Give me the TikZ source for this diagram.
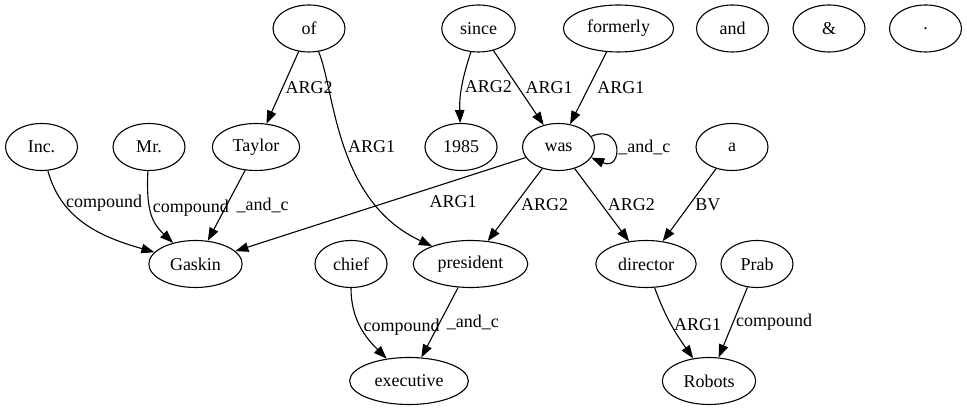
\documentclass[tikz,border=0pt]{standalone}
\usepackage{fontspec}
\setmainfont{Liberation Serif}
\newfontfamily\graphfont{Liberation Serif}
\usetikzlibrary{arrows.meta,shapes.geometric}

\begin{document}
\begin{tikzpicture}[x=1pt, y=1pt, line width=1.1pt, >={Triangle[length=13pt,width=9.5pt]},
  font=\graphfont\fontsize{18}{21}\selectfont,
  word/.style={draw, ellipse, minimum width=72pt, minimum height=47pt, inner xsep=7.5pt, inner ysep=3pt},
  lbl/.style={inner sep=2.5pt}]
  \useasboundingbox (0,0) rectangle (967,411);

  % top row
  \node (of) [word] at (309,382.5) {of};
  \node (since) [word] at (478.5,382.5) {since};
  \node (formerly) [word] at (618.5,382.5) {formerly};
  \node (and) [word] at (732.5,382.5) {and};
  \node (amp) [word] at (829,382.5) {\&};
  \node (dot) [word] at (925.5,382.5) {.};

  % second row
  \node (Inc) [word] at (41.5,264) {Inc.};
  \node (Mr) [word] at (149,264) {Mr.};
  \node (Taylor) [word] at (256,264) {Taylor};
  \node (y1985) [word] at (461,264) {1985};
  \node (was) [word] at (558.5,264) {was};
  \node (a) [word] at (732,264) {a};

  % third row
  \node (Gaskin) [word] at (195.5,147) {Gaskin};
  \node (chief) [word] at (351,147) {chief};
  \node (president) [word] at (470.5,147) {president};
  \node (director) [word] at (646,147) {director};
  \node (Prab) [word] at (757,147) {Prab};

  % bottom row
  \node (executive) [word] at (409,30) {executive};
  \node (Robots) [word] at (709,30) {Robots};

  \draw[->] (of) -- (Taylor) node[lbl,midway,right] {ARG2};
  \draw[->] (of) .. controls (335,320) and (335,210) .. node[lbl,midway,right] {ARG1} (president);
  \draw[->] (since) to[out=-108,in=92] node[lbl,midway,right] {ARG2} (y1985);
  \draw[->] (since) -- (was) node[lbl,midway,right,xshift=4pt] {ARG1};
  \draw[->] (formerly) -- (was) node[lbl,midway,right,xshift=6pt] {ARG1};
  \draw[->] (was.18) .. controls +(32,14) and +(32,-14) .. node[lbl,right] {\_and\_c} (was.-18);

  \draw[->] (Inc) to[out=-75,in=164] node[lbl,pos=0.25,right] {compound} (Gaskin);
  \draw[->] (Mr) .. controls (146,200) and (152,188) .. node[lbl,pos=0.4,right] {compound} (Gaskin);
  \draw[->] (Taylor.-115) -- (Gaskin.62) node[lbl,midway,right,xshift=7pt] {\_and\_c};
  \draw[->] (was) -- (Gaskin) node[lbl,pos=0.25,below=12pt] {ARG1};
  \draw[->] (was) -- (president) node[lbl,midway,right,xshift=3pt] {ARG2};
  \draw[->] (was) -- (director) node[lbl,midway,right,xshift=3pt] {ARG2};
  \draw[->] (a) -- (director) node[lbl,midway,right,xshift=3pt] {BV};

  \draw[->] (chief) to[out=-90,in=135] node[lbl,midway,right] {compound} (executive);
  \draw[->] (president) -- (executive) node[lbl,midway,right,xshift=4pt] {\_and\_c};
  \draw[->] (director) to[out=-70,in=125] node[lbl,midway,right] {ARG1} (Robots);
  \draw[->] (Prab) -- (Robots) node[lbl,midway,right] {compound};
\end{tikzpicture}
\end{document}
